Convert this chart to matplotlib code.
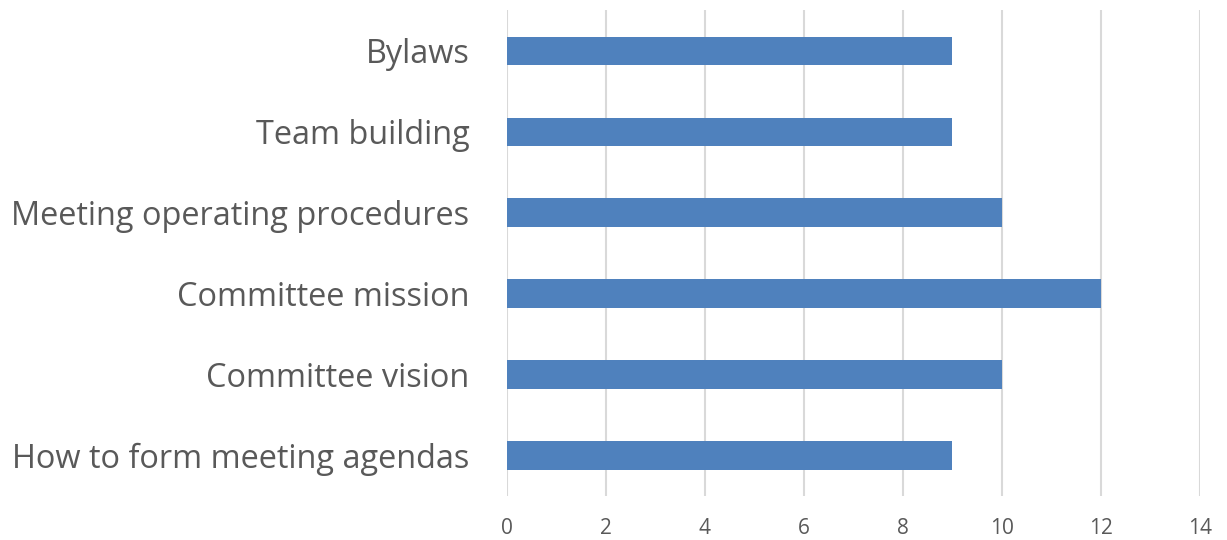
import matplotlib
matplotlib.use("Agg")
import matplotlib.pyplot as plt

plt.rcParams['font.family'] = ['Open Sans', 'DejaVu Sans']

categories = ['How to form meeting agendas', 'Committee vision', 'Committee mission',
              'Meeting operating procedures', 'Team building', 'Bylaws']
values = [9, 10, 12, 10, 9, 9]
xticks = [0, 2, 4, 6, 8, 10, 12, 14]

text_color = '#595959'

fig = plt.figure(figsize=(12.27, 5.4), dpi=100)
ax = fig.add_axes([0.413, 0.0815, 0.565, 0.8995])

ax.barh(range(len(categories)), values, height=0.35, color='#4F81BD', zorder=3)

ax.set_xlim(0, 14)
ax.set_ylim(-0.5, len(categories) - 0.5)
ax.set_xticks(xticks)
ax.set_xticklabels([str(t) for t in xticks])
ax.set_yticks(range(len(categories)))
ax.set_yticklabels(categories)

ax.grid(axis='x', color='#D9D9D9', linewidth=1.5, zorder=0)
for s in ax.spines.values():
    s.set_visible(False)
ax.tick_params(axis='both', length=0)
ax.tick_params(axis='x', labelsize=15, labelcolor=text_color, pad=16)
ax.tick_params(axis='y', labelsize=23.4, labelcolor=text_color, pad=27)

fig.savefig('out.png', dpi=100)
